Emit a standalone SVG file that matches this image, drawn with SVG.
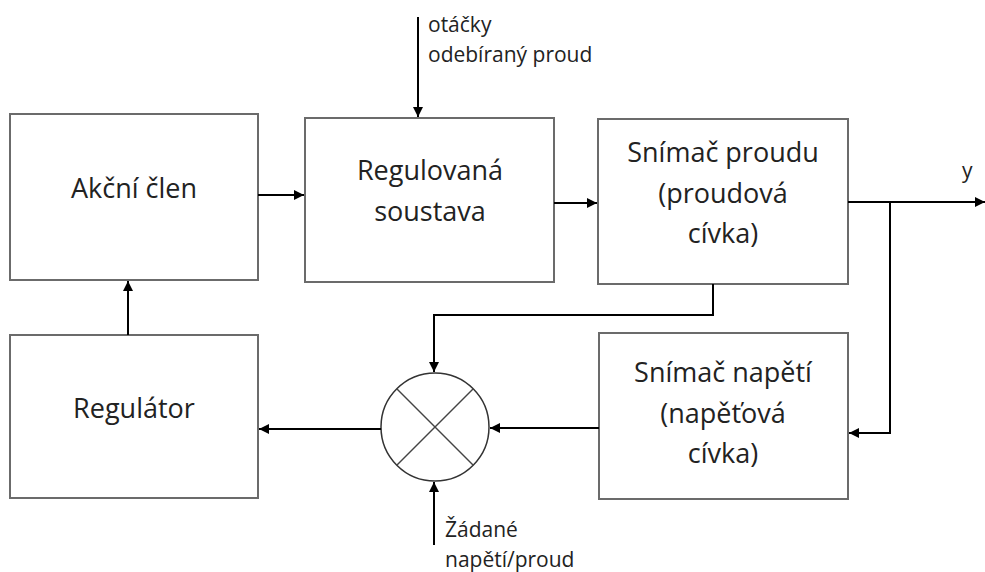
<svg xmlns="http://www.w3.org/2000/svg" width="985" height="572" viewBox="0 0 985 572">
<defs>
<marker id="ah" viewBox="0 0 10 10" refX="10" refY="5" markerWidth="10" markerHeight="10" markerUnits="userSpaceOnUse" orient="auto">
<path d="M0,0 L10,5 L0,10 z" fill="#000"/>
</marker>
<style>
.box{fill:#fff;stroke:#6b6b6b;stroke-width:2}
.t{font-family:"Open Sans","Liberation Sans",sans-serif;font-size:27px;fill:#222;text-anchor:middle}
.s{font-family:"Open Sans","Liberation Sans",sans-serif;font-size:21px;fill:#222}
.c{fill:none;stroke:#000;stroke-width:2}
</style>
</defs>
<rect width="985" height="572" fill="#fff"/>
<g id="akcni">
<rect class="box" x="10" y="114" width="248" height="166"/>
<text class="t" x="134" y="198">Akční člen</text>
</g>
<g id="regulovana">
<rect class="box" x="305" y="118" width="249" height="164"/>
<text class="t" x="430" y="180">Regulovaná</text>
<text class="t" x="430" y="221">soustava</text>
</g>
<g id="snimac-proudu">
<rect class="box" x="598" y="119" width="250" height="165"/>
<text class="t" x="723" y="162">Snímač proudu</text>
<text class="t" x="723" y="203">(proudová</text>
<text class="t" x="723" y="243">cívka)</text>
</g>
<g id="regulator">
<rect class="box" x="10" y="335" width="248" height="163"/>
<text class="t" x="134" y="418">Regulátor</text>
</g>
<g id="snimac-napeti">
<rect class="box" x="599" y="333" width="249" height="166"/>
<text class="t" x="723" y="382">Snímač napětí</text>
<text class="t" x="723" y="423">(napěťová</text>
<text class="t" x="723" y="463">cívka)</text>
</g>
<g id="soucet">
<circle cx="435" cy="427" r="54" fill="#fff" stroke="#333" stroke-width="1.5"/>
<line x1="397" y1="389" x2="473" y2="465" stroke="#444" stroke-width="1.5"/>
<line x1="473" y1="389" x2="397" y2="465" stroke="#444" stroke-width="1.5"/>
</g>
<g id="labels">
<text class="s" x="428" y="32">otáčky</text>
<text class="s" x="428" y="62">odebíraný proud</text>
<text class="s" x="962" y="178">y</text>
<text class="s" x="445" y="537">Žádané</text>
<text class="s" x="445" y="567">napětí/proud</text>
</g>
<g id="connectors">
<path class="c" d="M418,17 V117" marker-end="url(#ah)"/>
<path class="c" d="M258,195 H304" marker-end="url(#ah)"/>
<path class="c" d="M554,203 H597" marker-end="url(#ah)"/>
<path class="c" d="M848,202 H985" marker-end="url(#ah)"/>
<path class="c" d="M890,202 V433 H849" marker-end="url(#ah)"/>
<path class="c" d="M713,284 V315 H434 V372" marker-end="url(#ah)"/>
<path class="c" d="M599,428 H490" marker-end="url(#ah)"/>
<path class="c" d="M381,429 H259" marker-end="url(#ah)"/>
<path class="c" d="M128,335 V281" marker-end="url(#ah)"/>
<path class="c" d="M434,545 V482" marker-end="url(#ah)"/>
</g>
</svg>
